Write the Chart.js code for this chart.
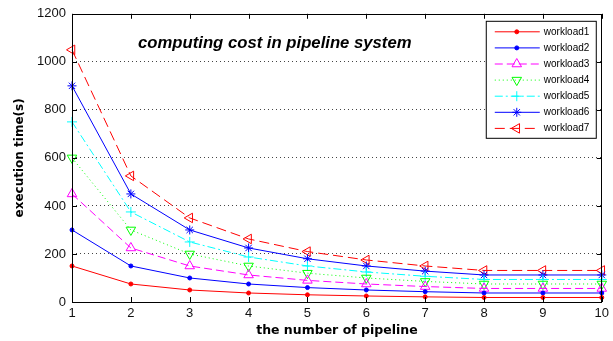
<!DOCTYPE html>
<html>
<head>
<meta charset="utf-8">
<script src="https://cdn.jsdelivr.net/npm/chart.js@4/dist/chart.umd.min.js"></script>
<style>
  html, body { margin: 0; padding: 0; background: #fff; }
  #wrap { width: 613px; height: 341px; }
</style>
</head>
<body>
<div id="wrap"><canvas id="chart"></canvas></div>
<script>
// number of pipelines (x axis)
const pipelines = ["1", "2", "3", "4", "5", "6", "7", "8", "9", "10"]
const yTicks = [0, 200, 400, 600, 800, 1000, 1200]

// execution time (s) per workload
const workload1 = [150, 75, 50, 37.5, 30, 25, 21.4, 18.8, 18.8, 18.8]
const workload2 = [300, 150, 100, 75, 60, 50, 42.9, 37.5, 37.5, 37.5]
const workload3 = [450, 225, 150, 112.5, 90, 75, 64.3, 56.3, 56.3, 56.3]
const workload4 = [600, 300, 200, 150, 120, 100, 85.7, 75, 75, 75]
const workload5 = [750, 375, 250, 187.5, 150, 125, 107.1, 93.8, 93.8, 93.8]
const workload6 = [900, 450, 300, 225, 180, 150, 128.6, 112.5, 112.5, 112.5]
const workload7 = [1050, 525, 350, 262.5, 210, 175, 150, 131.3, 131.3, 131.3]

const seriesNames = ["workload1", "workload2", "workload3", "workload4", "workload5", "workload6", "workload7"]
const seriesData = [workload1, workload2, workload3, workload4, workload5, workload6, workload7]

const chartTitle = "computing cost in pipeline system"

// line style per series, like matlab 'r.-', 'b.-', 'm^--', ...
const styles = [
  { color: "#ff0000", dash: [], point: "circle", radius: 2, rotation: 0, fill: "#ff0000" },
  { color: "#0000ff", dash: [], point: "circle", radius: 2, rotation: 0, fill: "#0000ff" },
  { color: "#ff00ff", dash: [8, 4], point: "triangle", radius: 5.5, rotation: 0, fill: "rgba(0,0,0,0)" },
  { color: "#00ff00", dash: [1, 3], point: "triangle", radius: 5.5, rotation: 180, fill: "rgba(0,0,0,0)" },
  { color: "#00ffff", dash: [8, 3, 2, 3], point: "cross", radius: 5, rotation: 0, fill: "rgba(0,0,0,0)" },
  { color: "#0000ff", dash: [], point: "star", radius: 4.5, rotation: 0, fill: "rgba(0,0,0,0)" },
  { color: "#ff0000", dash: [10, 5], point: "triangle", radius: 5.5, rotation: 270, fill: "rgba(0,0,0,0)" },
]

const datasets = seriesNames.map((name, i) => ({
  label: name,
  data: seriesData[i],
  borderColor: styles[i].color,
  borderWidth: 1,
  borderDash: styles[i].dash,
  pointStyle: styles[i].point,
  pointRadius: styles[i].radius,
  pointRotation: styles[i].rotation,
  pointBorderColor: styles[i].color,
  pointBackgroundColor: styles[i].fill,
  pointBorderWidth: 1,
  tension: 0,
  clip: false,
}))

// axes box, inward ticks, title text and the boxed legend
const matlabFrame = {
  id: "matlabFrame",
  afterDraw: (chart) => {
    const ctx = chart.ctx
    const area = chart.chartArea
    const xs = chart.scales.x
    const ys = chart.scales.y

    ctx.save()
    ctx.setLineDash([])
    ctx.strokeStyle = "#000"
    ctx.lineWidth = 1
    ctx.strokeRect(Math.round(area.left) + 0.5, Math.round(area.top) + 0.5,
      Math.round(area.right - area.left) - 1, Math.round(area.bottom - area.top))

    const tl = 5
    ctx.beginPath()
    pipelines.forEach((p, i) => {
      const x = Math.round(xs.getPixelForValue(i)) + 0.5
      ctx.moveTo(x, area.bottom); ctx.lineTo(x, area.bottom - tl)
      ctx.moveTo(x, area.top); ctx.lineTo(x, area.top + tl)
    })
    yTicks.forEach((v) => {
      const y = Math.round(ys.getPixelForValue(v)) + 0.5
      ctx.moveTo(area.left, y); ctx.lineTo(area.left + tl, y)
      ctx.moveTo(area.right, y); ctx.lineTo(area.right - tl, y)
    })
    ctx.stroke()

    // title inside the plot
    ctx.fillStyle = "#000"
    ctx.font = "italic bold 16.7px 'Liberation Sans', Arial, sans-serif"
    ctx.textAlign = "left"
    ctx.textBaseline = "alphabetic"
    ctx.fillText(chartTitle, area.left + 66, area.top + 34)

    // legend
    const lx = area.right - 116
    const ly = area.top + 7
    ctx.fillStyle = "#fff"
    ctx.fillRect(lx, ly, 110, 117)
    ctx.strokeStyle = "#000"
    ctx.strokeRect(lx + 0.5, ly + 0.5, 110, 117)
    ctx.font = "10px 'Liberation Sans', Arial, sans-serif"
    ctx.textBaseline = "middle"
    chart.data.datasets.forEach((ds, i) => {
      const y = ly + 11 + i * 16.1
      ctx.strokeStyle = ds.borderColor
      ctx.setLineDash(ds.borderDash)
      ctx.beginPath()
      ctx.moveTo(lx + 9, y)
      ctx.lineTo(lx + 54, y)
      ctx.stroke()
      ctx.setLineDash([])
      ctx.fillStyle = ds.pointBackgroundColor
      ctx.strokeStyle = ds.pointBorderColor
      ctx.lineWidth = 1
      Chart.helpers.drawPoint(ctx, {
        pointStyle: ds.pointStyle,
        rotation: ds.pointRotation,
        radius: ds.pointRadius,
        borderWidth: 1,
      }, lx + 31, y)
      ctx.fillStyle = "#000"
      ctx.fillText(ds.label, lx + 58, y)
    })
    ctx.restore()
  },
}

new Chart(document.getElementById("chart"), {
  type: "line",
  data: { labels: pipelines, datasets: datasets },
  options: {
    responsive: true,
    maintainAspectRatio: false,
    animation: false,
    events: [],
    layout: { padding: { top: 13, right: 9, left: 0, bottom: 0 } },
    plugins: {
      legend: { display: false },
      tooltip: { enabled: false },
    },
    scales: {
      x: {
        type: "category",
        offset: false,
        grid: { display: false, drawTicks: false },
        border: { display: false },
        ticks: {
          padding: 4,
          color: "#111",
          maxRotation: 0,
          autoSkip: false,
          font: { family: "'Liberation Sans', Arial, sans-serif", size: 13 },
        },
        title: {
          display: true,
          text: "the number of pipeline",
          color: "#000",
          font: { family: "'DejaVu Sans', sans-serif", size: 12.5, weight: "bold" },
          padding: { top: 0, bottom: 3 },
        },
        afterFit: (scale) => { scale.height = 39 },
      },
      y: {
        type: "linear",
        min: 0,
        max: 1200,
        afterBuildTicks: (scale) => { scale.ticks = yTicks.map((v) => ({ value: v })) },
        grid: {
          drawTicks: false,
          lineWidth: 1,
          color: (c) => (c.tick && (c.tick.value === 0 || c.tick.value === 1200) ? "rgba(0,0,0,0)" : "#444"),
        },
        border: { display: false, dash: [1, 3] },
        ticks: {
          padding: 6,
          color: "#111",
          callback: (v) => String(v),
          font: { family: "'Liberation Sans', Arial, sans-serif", size: 13 },
        },
        title: {
          display: true,
          text: "execution time(s)",
          color: "#000",
          font: { family: "'DejaVu Sans', sans-serif", size: 12, weight: "bold" },
          padding: { top: 13, bottom: 0 },
        },
        afterFit: (scale) => { scale.width = 72 },
      },
    },
  },
  plugins: [matlabFrame],
})
</script>
</body>
</html>
